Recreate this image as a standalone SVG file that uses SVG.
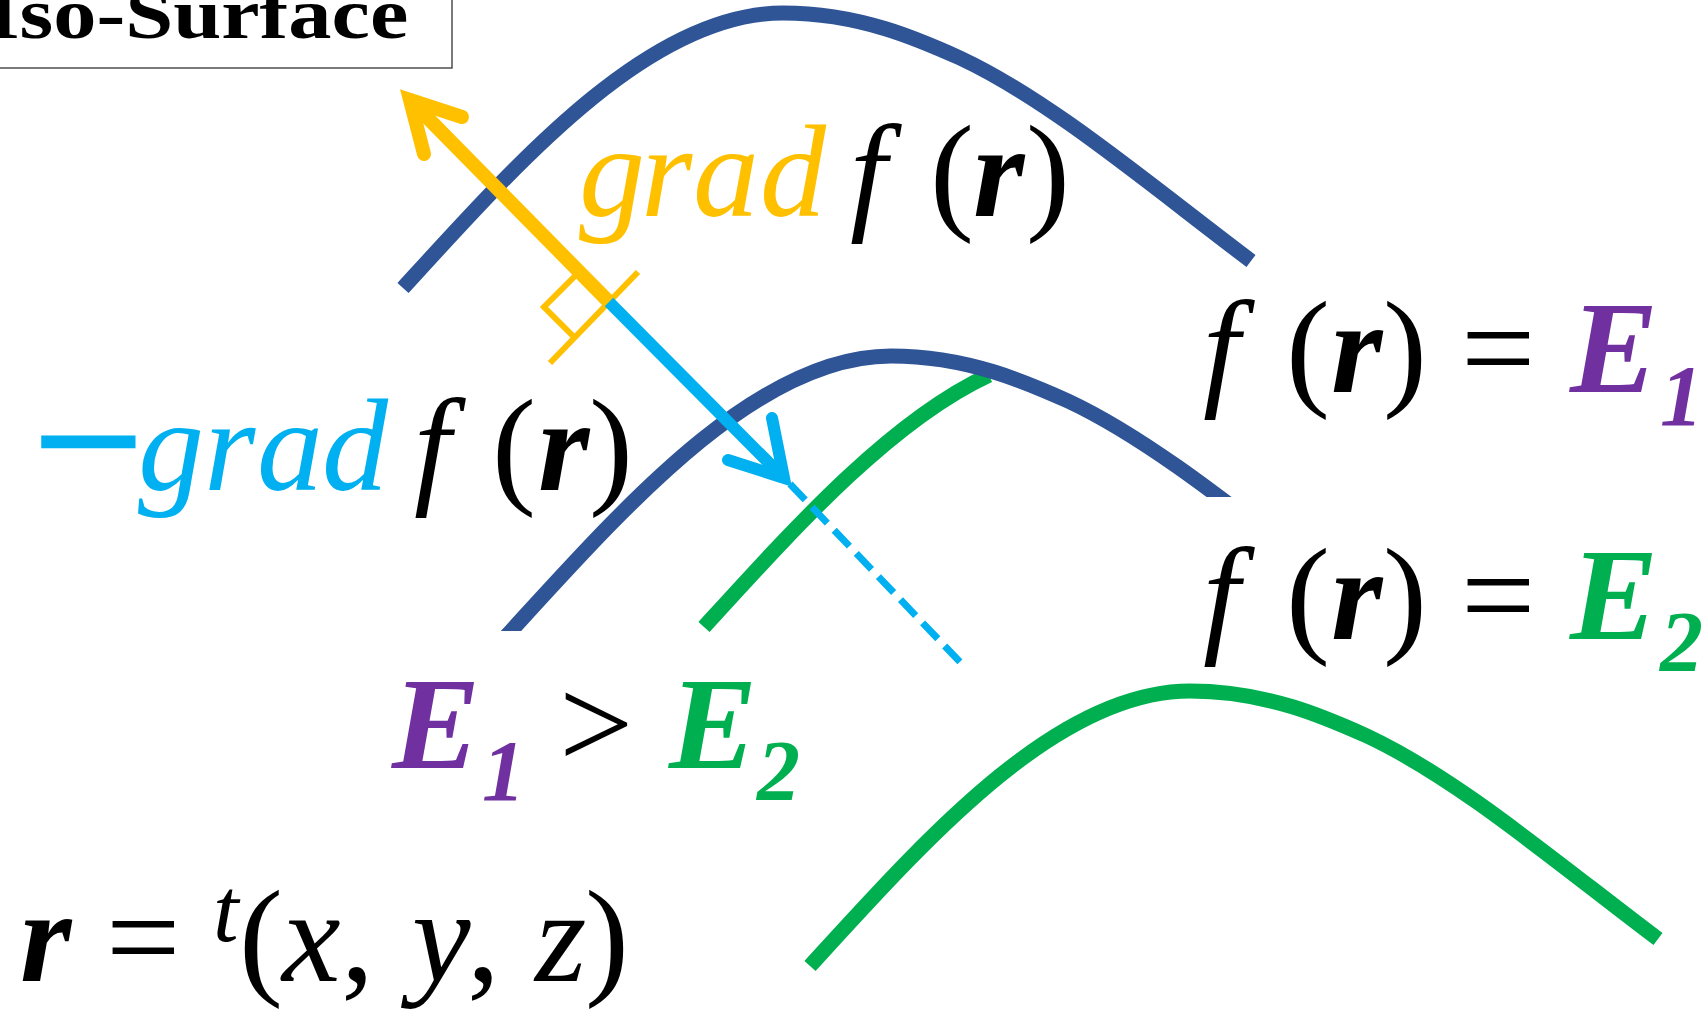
<svg xmlns="http://www.w3.org/2000/svg" xmlns:xlink="http://www.w3.org/1999/xlink" width="1706" height="1009" viewBox="0 0 1706 1009">
<style>
.m{font-family:'Liberation Serif','Times New Roman',Times,serif;font-size:132px;fill:#000}
.it{font-style:italic}
.bi{font-style:italic;font-weight:bold}
.sub{font-size:86px}
.ttl{font-family:'Liberation Serif','Times New Roman',Times,serif;font-weight:bold;font-size:72px;fill:#000}
.curve{fill:none;stroke-width:15;stroke-linecap:butt}
.blue{stroke:#2F5597}
.green{stroke:#00B050}
.orange{stroke:#FFC000;fill:none}
.cyan{stroke:#00B0F0;fill:none}
.head{stroke-linejoin:miter;stroke-miterlimit:10;stroke-linecap:round}
.cOr{fill:#FFC000}.cCy{fill:#00B0F0}.cPu{fill:#7030A0}.cGr{fill:#00B050}
</style>
<defs>
<path id="surf" fill="none" d="M0,0 C117,-128 247,-275 380,-275 C457,-275 517,-248 557,-230 C647,-188 747,-103 848,-27"/>
<path id="surfMid" fill="none" d="M-8,8.7 L0,0 C117,-128 247,-275 380,-275 C457,-275 517,-248 557,-230 C647,-188 747,-103 848,-27"/>
<clipPath id="clipMid"><polygon points="0,0 1706,0 1706,497 1100,497 1100,631 0,631"/></clipPath>
</defs>
<rect width="1706" height="1009" fill="#fff"/>

<g id="title">
<rect x="-3" y="-3" width="455" height="71" fill="#fff" stroke="#333" stroke-width="1.3"/>
<text class="ttl" x="-11.7" y="38" transform="scale(1.2,1)">Iso-Surface</text>
</g>

<g id="surface-E1-top">
<use xlink:href="#surf" href="#surf" class="curve blue" transform="translate(403,288)"/>
</g>
<g id="surface-E2-partial">
<path class="curve green" fill="none" transform="translate(704,627)" d="M0,0 C88.92,-97.28 185.35,-205.53 284.89,-251.89"/>
</g>
<g id="surface-E1-middle" clip-path="url(#clipMid)">
<use xlink:href="#surfMid" href="#surfMid" class="curve blue" transform="translate(511,631)"/>
</g>
<g id="surface-E2-bottom">
<use xlink:href="#surf" href="#surf" class="curve green" transform="translate(810,966)"/>
</g>

<g id="connectors">
<path class="orange" stroke-width="14" d="M609,302 L410,100"/>
<path class="orange head" stroke-width="14" d="M462,117 L410,100 L424,154"/>
<path class="orange" stroke-width="6" d="M550,363 L638,272"/>
<path class="orange" stroke-width="6" stroke-linejoin="miter" d="M579,272 L544,307 L575,338"/>
<path class="cyan" stroke-width="12" d="M609,302 L784,478"/>
<path class="cyan head" stroke-width="12" d="M772,418 L784,478 L728,460"/>
<path class="cyan" stroke-width="7" stroke-dasharray="22 10" d="M790,484 L960,662"/>
</g>

<g id="label-grad">
<text class="m" y="216"><tspan class="it cOr" x="579">g</tspan><tspan class="it cOr" x="641">r</tspan><tspan class="it cOr" x="693">a</tspan><tspan class="it cOr" x="760">d</tspan><tspan class="it" x="850">f</tspan><tspan x="930">(</tspan><tspan class="bi" x="973">r</tspan><tspan x="1026">)</tspan></text>
</g>

<g id="label-neg-grad">
<text class="m" y="490"><tspan class="cCy" x="33" y="507" font-size="196" stroke="#00B0F0" stroke-width="3">−</tspan><tspan class="it cCy" x="138" y="490">g</tspan><tspan class="it cCy" x="204">r</tspan><tspan class="it cCy" x="257">a</tspan><tspan class="it cCy" x="322">d</tspan><tspan class="it" x="414">f</tspan><tspan x="492">(</tspan><tspan class="bi" x="538">r</tspan><tspan x="589">)</tspan></text>
</g>

<g id="label-E1">
<text class="m" y="392"><tspan class="it" x="1203">f</tspan><tspan x="1286">(</tspan><tspan class="bi" x="1331">r</tspan><tspan x="1383">)</tspan><tspan x="1461">=</tspan><tspan class="bi cPu" x="1570">E</tspan><tspan class="bi cPu sub" x="1660" y="425">1</tspan></text>
</g>

<g id="label-E2">
<text class="m" y="639"><tspan class="it" x="1203">f</tspan><tspan x="1286">(</tspan><tspan class="bi" x="1331">r</tspan><tspan x="1383">)</tspan><tspan x="1461">=</tspan><tspan class="bi cGr" x="1570">E</tspan><tspan class="bi cGr sub" x="1660" y="671">2</tspan></text>
</g>

<g id="label-compare">
<text class="m" y="768"><tspan class="bi cPu" x="392">E</tspan><tspan class="bi cPu sub" x="482" y="800">1</tspan><tspan x="559" y="768">&gt;</tspan><tspan class="bi cGr" x="669">E</tspan><tspan class="bi cGr sub" x="757" y="800">2</tspan></text>
</g>

<g id="label-r">
<text class="m" y="981"><tspan class="bi" x="20">r</tspan><tspan x="106">=</tspan><tspan class="it" x="213" y="941" font-size="92">t</tspan><tspan x="239" y="981">(</tspan><tspan class="it" x="282">x</tspan><tspan x="341">,</tspan><tspan class="it" x="412">y</tspan><tspan x="467">,</tspan><tspan class="it" x="535">z</tspan><tspan x="585">)</tspan></text>
</g>
</svg>
